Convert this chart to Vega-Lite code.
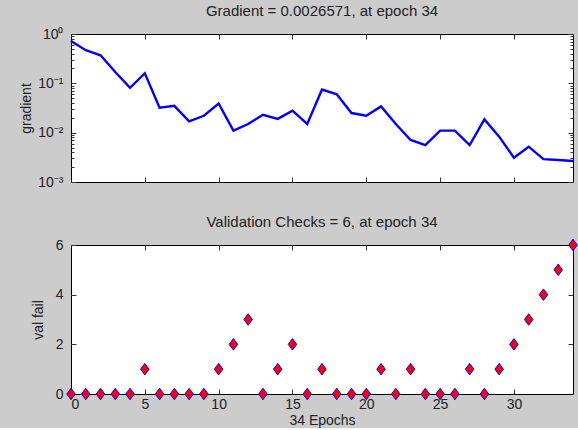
{
  "$schema": "https://vega.github.io/schema/vega-lite/v6.json",
  "background": "#cccccc",
  "padding": {"left": 18, "top": 3, "right": 0, "bottom": 0},
  "config": {
    "font": "Liberation Sans",
    "view": {"fill": "white", "stroke": "black", "strokeWidth": 1},
    "axis": {"domain": false, "grid": false, "labelFont": "Liberation Sans", "labelFontSize": 14, "labelColor": "#222222", "titleFont": "Liberation Sans", "titleFontSize": 14, "titleFontWeight": "normal", "titleColor": "#222222", "tickColor": "#333333", "tickSize": -5},
    "title": {"font": "Liberation Sans", "fontSize": 15, "fontWeight": "normal", "color": "#222222"}
  },
  "datasets": {
    "grad": [
      {"epoch": 0, "gradient": 0.72}, {"epoch": 1, "gradient": 0.47}, {"epoch": 2, "gradient": 0.37},
      {"epoch": 3, "gradient": 0.17}, {"epoch": 4, "gradient": 0.081}, {"epoch": 5, "gradient": 0.16},
      {"epoch": 6, "gradient": 0.032}, {"epoch": 7, "gradient": 0.035}, {"epoch": 8, "gradient": 0.017},
      {"epoch": 9, "gradient": 0.022}, {"epoch": 10, "gradient": 0.039}, {"epoch": 11, "gradient": 0.011},
      {"epoch": 12, "gradient": 0.015}, {"epoch": 13, "gradient": 0.023}, {"epoch": 14, "gradient": 0.019},
      {"epoch": 15, "gradient": 0.028}, {"epoch": 16, "gradient": 0.015}, {"epoch": 17, "gradient": 0.075},
      {"epoch": 18, "gradient": 0.06}, {"epoch": 19, "gradient": 0.025}, {"epoch": 20, "gradient": 0.022},
      {"epoch": 21, "gradient": 0.034}, {"epoch": 22, "gradient": 0.015}, {"epoch": 23, "gradient": 0.0071},
      {"epoch": 24, "gradient": 0.0056}, {"epoch": 25, "gradient": 0.011}, {"epoch": 26, "gradient": 0.011},
      {"epoch": 27, "gradient": 0.0056}, {"epoch": 28, "gradient": 0.0186}, {"epoch": 29, "gradient": 0.0083},
      {"epoch": 30, "gradient": 0.0031}, {"epoch": 31, "gradient": 0.0052}, {"epoch": 32, "gradient": 0.0029},
      {"epoch": 33, "gradient": 0.0028}, {"epoch": 34, "gradient": 0.0026571}
    ],
    "val": [
      {"epoch": 0, "fail": 0}, {"epoch": 1, "fail": 0}, {"epoch": 2, "fail": 0}, {"epoch": 3, "fail": 0},
      {"epoch": 4, "fail": 0}, {"epoch": 5, "fail": 1}, {"epoch": 6, "fail": 0}, {"epoch": 7, "fail": 0},
      {"epoch": 8, "fail": 0}, {"epoch": 9, "fail": 0}, {"epoch": 10, "fail": 1}, {"epoch": 11, "fail": 2},
      {"epoch": 12, "fail": 3}, {"epoch": 13, "fail": 0}, {"epoch": 14, "fail": 1}, {"epoch": 15, "fail": 2},
      {"epoch": 16, "fail": 0}, {"epoch": 17, "fail": 1}, {"epoch": 18, "fail": 0}, {"epoch": 19, "fail": 0},
      {"epoch": 20, "fail": 0}, {"epoch": 21, "fail": 1}, {"epoch": 22, "fail": 0}, {"epoch": 23, "fail": 1},
      {"epoch": 24, "fail": 0}, {"epoch": 25, "fail": 0}, {"epoch": 26, "fail": 0}, {"epoch": 27, "fail": 1},
      {"epoch": 28, "fail": 0}, {"epoch": 29, "fail": 1}, {"epoch": 30, "fail": 2}, {"epoch": 31, "fail": 3},
      {"epoch": 32, "fail": 4}, {"epoch": 33, "fail": 5}, {"epoch": 34, "fail": 6}
    ]
  },
  "vconcat": [
    {
      "width": 502,
      "height": 148,
      "title": {"text": "Gradient = 0.0026571, at epoch 34", "offset": 8},
      "data": {"name": "grad"},
      "resolve": {"axis": {"x": "independent", "y": "independent"}},
      "layer": [
        {
          "mark": {"type": "line", "color": "#0000ff", "strokeWidth": 2.4},
          "encoding": {
            "x": {"field": "epoch", "type": "quantitative", "scale": {"domain": [0, 34], "nice": false, "zero": false},
                  "axis": {"orient": "bottom", "values": [5, 10, 15, 20, 25, 30], "labels": false, "title": null}},
            "y": {"field": "gradient", "type": "quantitative", "scale": {"type": "log", "domain": [0.001, 1], "nice": false},
                  "axis": {"orient": "left", "title": "gradient", "titleX": -38,
                           "values": [0.001,0.002,0.003,0.004,0.005,0.006,0.007,0.008,0.009,0.01,0.02,0.03,0.04,0.05,0.06,0.07,0.08,0.09,0.1,0.2,0.3,0.4,0.5,0.6,0.7,0.8,0.9,1],
                           "tickSize": {"condition": {"test": "abs(log(datum.value)/LN10 - round(log(datum.value)/LN10)) < 0.001", "value": -5}, "value": -3},
                           "labelPadding": 13,
                           "labelExpr": "abs(datum.value-1)<1e-9 ? '10⁰' : abs(datum.value-0.1)<1e-9 ? '10⁻¹' : abs(datum.value-0.01)<1e-10 ? '10⁻²' : abs(datum.value-0.001)<1e-11 ? '10⁻³' : ''"}}
          }
        },
        {
          "mark": {"type": "line", "opacity": 0},
          "encoding": {
            "x": {"field": "epoch", "type": "quantitative", "scale": {"domain": [0, 34], "nice": false, "zero": false},
                  "axis": {"orient": "top", "values": [5, 10, 15, 20, 25, 30], "labels": false, "title": null}},
            "y": {"field": "gradient", "type": "quantitative", "scale": {"type": "log", "domain": [0.001, 1], "nice": false},
                  "axis": {"orient": "right", "title": null, "labels": false,
                           "values": [0.001,0.002,0.003,0.004,0.005,0.006,0.007,0.008,0.009,0.01,0.02,0.03,0.04,0.05,0.06,0.07,0.08,0.09,0.1,0.2,0.3,0.4,0.5,0.6,0.7,0.8,0.9,1],
                           "tickSize": {"condition": {"test": "abs(log(datum.value)/LN10 - round(log(datum.value)/LN10)) < 0.001", "value": -5}, "value": -3}}}
          }
        }
      ]
    },
    {
      "width": 502,
      "height": 149,
      "title": {"text": "Validation Checks = 6, at epoch 34", "offset": 7},
      "data": {"name": "val"},
      "resolve": {"axis": {"x": "independent", "y": "independent"}},
      "layer": [
        {
          "mark": {"type": "point", "shape": "M0,-1.15L0.85,0L0,1.15L-0.85,0Z", "filled": true, "fill": "#ff0000", "stroke": "#0000ff", "strokeWidth": 1, "opacity": 1, "size": 100},
          "encoding": {
            "x": {"field": "epoch", "type": "quantitative", "scale": {"domain": [0, 34], "nice": false, "zero": false},
                  "axis": {"orient": "bottom", "values": [0, 5, 10, 15, 20, 25, 30], "title": "34 Epochs", "labelPadding": 8, "titlePadding": 2}},
            "y": {"field": "fail", "type": "quantitative", "scale": {"domain": [0, 6], "nice": false},
                  "axis": {"orient": "left", "values": [0, 2, 4, 6], "title": "val fail", "titleX": -26, "labelPadding": 13}}
          }
        },
        {
          "mark": {"type": "point", "opacity": 0},
          "encoding": {
            "x": {"field": "epoch", "type": "quantitative", "scale": {"domain": [0, 34], "nice": false, "zero": false},
                  "axis": {"orient": "top", "values": [5, 10, 15, 20, 25, 30], "labels": false, "title": null}},
            "y": {"field": "fail", "type": "quantitative", "scale": {"domain": [0, 6], "nice": false},
                  "axis": {"orient": "right", "values": [2, 4], "labels": false, "title": null}}
          }
        }
      ]
    }
  ],
  "spacing": 24
}
